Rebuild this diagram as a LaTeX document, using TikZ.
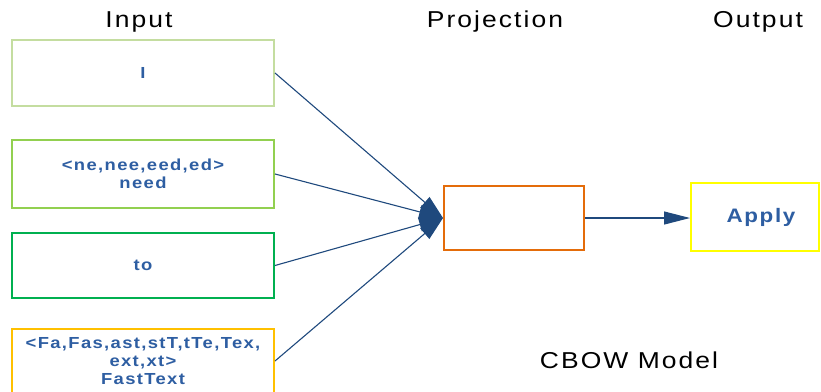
\documentclass[tikz,border=0pt]{standalone}
\usepackage{fontspec}
\usetikzlibrary{arrows.meta}
\newfontfamily\widesans[FakeStretch=1.15,LetterSpace=9]{Liberation Sans}
\newfontfamily\widebold[FakeStretch=1.15,LetterSpace=8.5]{Liberation Sans Bold}
\definecolor{paleolive}{RGB}{196,221,160}
\definecolor{limegreen}{RGB}{146,208,80}
\definecolor{deepgreen}{RGB}{0,176,80}
\definecolor{ambergold}{RGB}{255,192,0}
\definecolor{burntorange}{RGB}{228,108,10}
\definecolor{brightyellow}{RGB}{255,255,0}
\definecolor{linkblue}{RGB}{31,73,125}
\definecolor{labelblue}{RGB}{46,94,162}
\begin{document}
\begin{tikzpicture}[x=1pt,y=-1pt,
  header/.style={font=\widesans\fontsize{23}{27}\selectfont, text=black,
    anchor=base, inner sep=0pt},
  wordbox/.style={draw, line width=2pt, fill=white, minimum width=262pt,
    inner sep=0pt, align=center, text=labelblue,
    font=\widebold\fontsize{16}{18}\selectfont},
  conn/.style={draw=linkblue, line width=1.1pt,
    -{Triangle[length=24pt,width=14pt]}, color=linkblue}
]
\useasboundingbox (0,0) rectangle (821,391);
\clip (0,0) rectangle (821,391);

% column headers
\node[header] (hin)   at (139,27) {Input};
\node[header] (hproj) at (495,27) {Projection};
\node[header] (hout)  at (758,27) {Output};

% input context words
\node[wordbox, draw=paleolive, minimum height=66pt] (w1) at (143,73) {I};
\node[wordbox, draw=limegreen, minimum height=68pt] (w2) at (143,174)
  {<ne,nee,eed,ed>\\need};
\node[wordbox, draw=deepgreen, minimum height=65pt] (w3) at (143,265.5) {to};
\node[wordbox, draw=ambergold, minimum height=64pt] (w4) at (143,361)
  {<Fa,Fas,ast,stT,tTe,Tex,\\ext,xt>\\FastText};

% projection and output
\node[draw=burntorange, line width=2pt, minimum width=140pt, minimum height=64pt,
  inner sep=0pt] (proj) at (514,218) {};
\node[wordbox, draw=brightyellow, minimum width=128pt, minimum height=68pt,
  font=\widebold\fontsize{19.5}{22}\selectfont] (apply) at (755,217)
  {\hspace*{12pt}Apply};

% connectors
\draw[conn] (w1.east) -- (proj.west);
\draw[conn] (w2.east) -- (proj.west);
\draw[conn] (w3.east) -- (proj.west);
\draw[conn] (w4.east) -- (proj.west);
\draw[conn, -{Triangle[length=26pt,width=13pt]}] (proj.east) -- (apply.west |- proj.east);

\node[header] (title) at (629,368) {CBOW Model};
\end{tikzpicture}
\end{document}
